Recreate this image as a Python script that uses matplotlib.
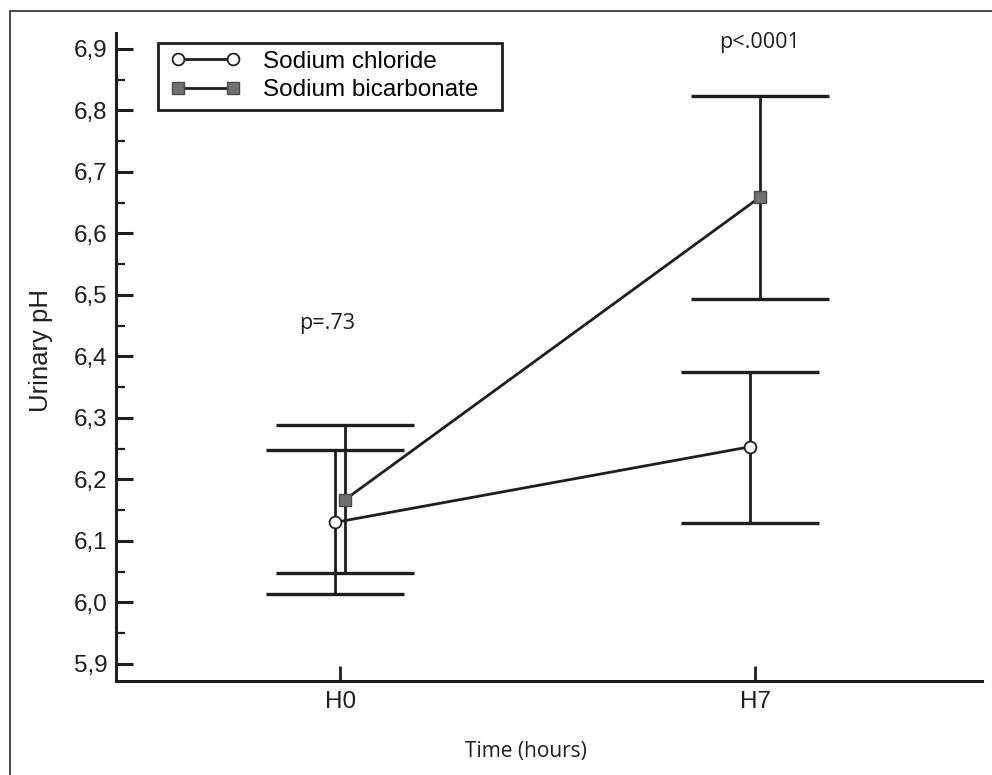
import matplotlib
matplotlib.use("Agg")
import matplotlib.pyplot as plt
import matplotlib.ticker as mticker
from matplotlib.patches import Rectangle

# ---- data ----
timepoints = ["H0", "H7"]
chloride_mean = [6.130, 6.253]
chloride_low = [6.014, 6.129]
chloride_high = [6.248, 6.375]
bicarb_mean = [6.167, 6.659]
bicarb_low = [6.048, 6.493]
bicarb_high = [6.289, 6.824]
series_labels = ["Sodium chloride", "Sodium bicarbonate"]
p_labels = ["p=.73", "p<.0001"]
y_ticks = [5.9, 6.0, 6.1, 6.2, 6.3, 6.4, 6.5, 6.6, 6.7, 6.8, 6.9]

W, H = 992, 775
fig = plt.figure(figsize=(W / 100, H / 100), dpi=100)
fig.patch.set_facecolor("white")

# outer frame (extends beyond right/bottom edges)
fig.patches.append(Rectangle((10 / W, -0.1), 1.2, 1 - 11 / H + 0.1,
                             transform=fig.transFigure, fill=False,
                             edgecolor="#3a3a3a", linewidth=1.3, zorder=0))

ax = fig.add_axes([116 / W, 94 / H, (982 - 116) / W, (681 - 33) / H])
ink = "#1e1e1e"

xpos = list(range(len(timepoints)))
off = 0.012
xc = [x - off for x in xpos]
xb = [x + off for x in xpos]

c_err = [[m - l for m, l in zip(chloride_mean, chloride_low)],
         [h - m for m, h in zip(chloride_mean, chloride_high)]]
b_err = [[m - l for m, l in zip(bicarb_mean, bicarb_low)],
         [h - m for m, h in zip(bicarb_mean, bicarb_high)]]

cap = 69 * 0.72
ax.errorbar(xc, chloride_mean, yerr=c_err, fmt="none", ecolor=ink,
            elinewidth=2.0, capsize=cap, capthick=2.4, zorder=2)
ax.errorbar(xb, bicarb_mean, yerr=b_err, fmt="none", ecolor=ink,
            elinewidth=2.0, capsize=cap, capthick=2.4, zorder=2)

ax.plot(xc, chloride_mean, color=ink, lw=2.0, marker="o", ms=8.5,
        mfc="white", mec=ink, mew=1.3, label=series_labels[0], zorder=3)
ax.plot(xb, bicarb_mean, color=ink, lw=2.0, marker="s", ms=8.5,
        mfc="#707070", mec="#4a4a4a", mew=1.0, label=series_labels[1], zorder=3)

ax.set_xlim(-0.540, 1.547)
ax.set_ylim(5.872, 6.926)
ax.set_xticks(xpos)
ax.set_xticklabels(timepoints)
ax.set_yticks(y_ticks)
ax.yaxis.set_major_formatter(mticker.FuncFormatter(lambda v, p: f"{v:.1f}".replace(".", ",")))
ax.yaxis.set_minor_locator(mticker.MultipleLocator(0.05))

for s in ["top", "right"]:
    ax.spines[s].set_visible(False)
for s in ["left", "bottom"]:
    ax.spines[s].set_linewidth(2.2)
    ax.spines[s].set_color(ink)

lab_font = "Liberation Sans"
ax.tick_params(axis="y", which="major", direction="in", length=12, width=2.2,
               color=ink, pad=6, labelsize=17.5, labelcolor=ink)
ax.tick_params(axis="y", which="minor", direction="in", length=6.5, width=1.6, color=ink)
ax.tick_params(axis="x", which="major", direction="in", length=11, width=2.0,
               color=ink, pad=7, labelsize=17.5, labelcolor=ink)
for t in ax.get_xticklabels() + ax.get_yticklabels():
    t.set_fontfamily(lab_font)

# legend (frame drawn separately to match the reference's box)
box = Rectangle((158 / W, 1 - 110 / H), (502 - 158) / W, (110 - 43) / H,
                transform=fig.transFigure, fill=True, facecolor="white",
                edgecolor=ink, linewidth=2.0, zorder=4, clip_on=False)
ax.add_patch(box)
leg = ax.legend(loc="upper left", bbox_to_anchor=(162 / W, 1 - 42 / H),
                bbox_transform=fig.transFigure, borderaxespad=0, numpoints=2,
                prop={"family": lab_font, "size": 17.5}, handlelength=2.86,
                handletextpad=0.95, borderpad=0.35, labelspacing=0.28,
                frameon=False)
leg.set_zorder(5)

# p-value annotations
ax.text(-0.031, 6.454, p_labels[0], ha="center", va="center",
        fontsize=15.5, family="Open Sans", color=ink)
ax.text(1.011, 6.910, p_labels[1], ha="center", va="center",
        fontsize=15.5, family="Open Sans", color=ink)

fig.text(526 / W, 1 - 752 / H, "Time (hours)", ha="center", va="center",
         fontsize=15, family="Open Sans", color=ink)
fig.text(41 / W, 1 - 350 / H, "Urinary pH", ha="center", va="center",
         rotation=90, fontsize=18.5, family=lab_font, color=ink)

fig.savefig("out.png", dpi=100, facecolor="white")
